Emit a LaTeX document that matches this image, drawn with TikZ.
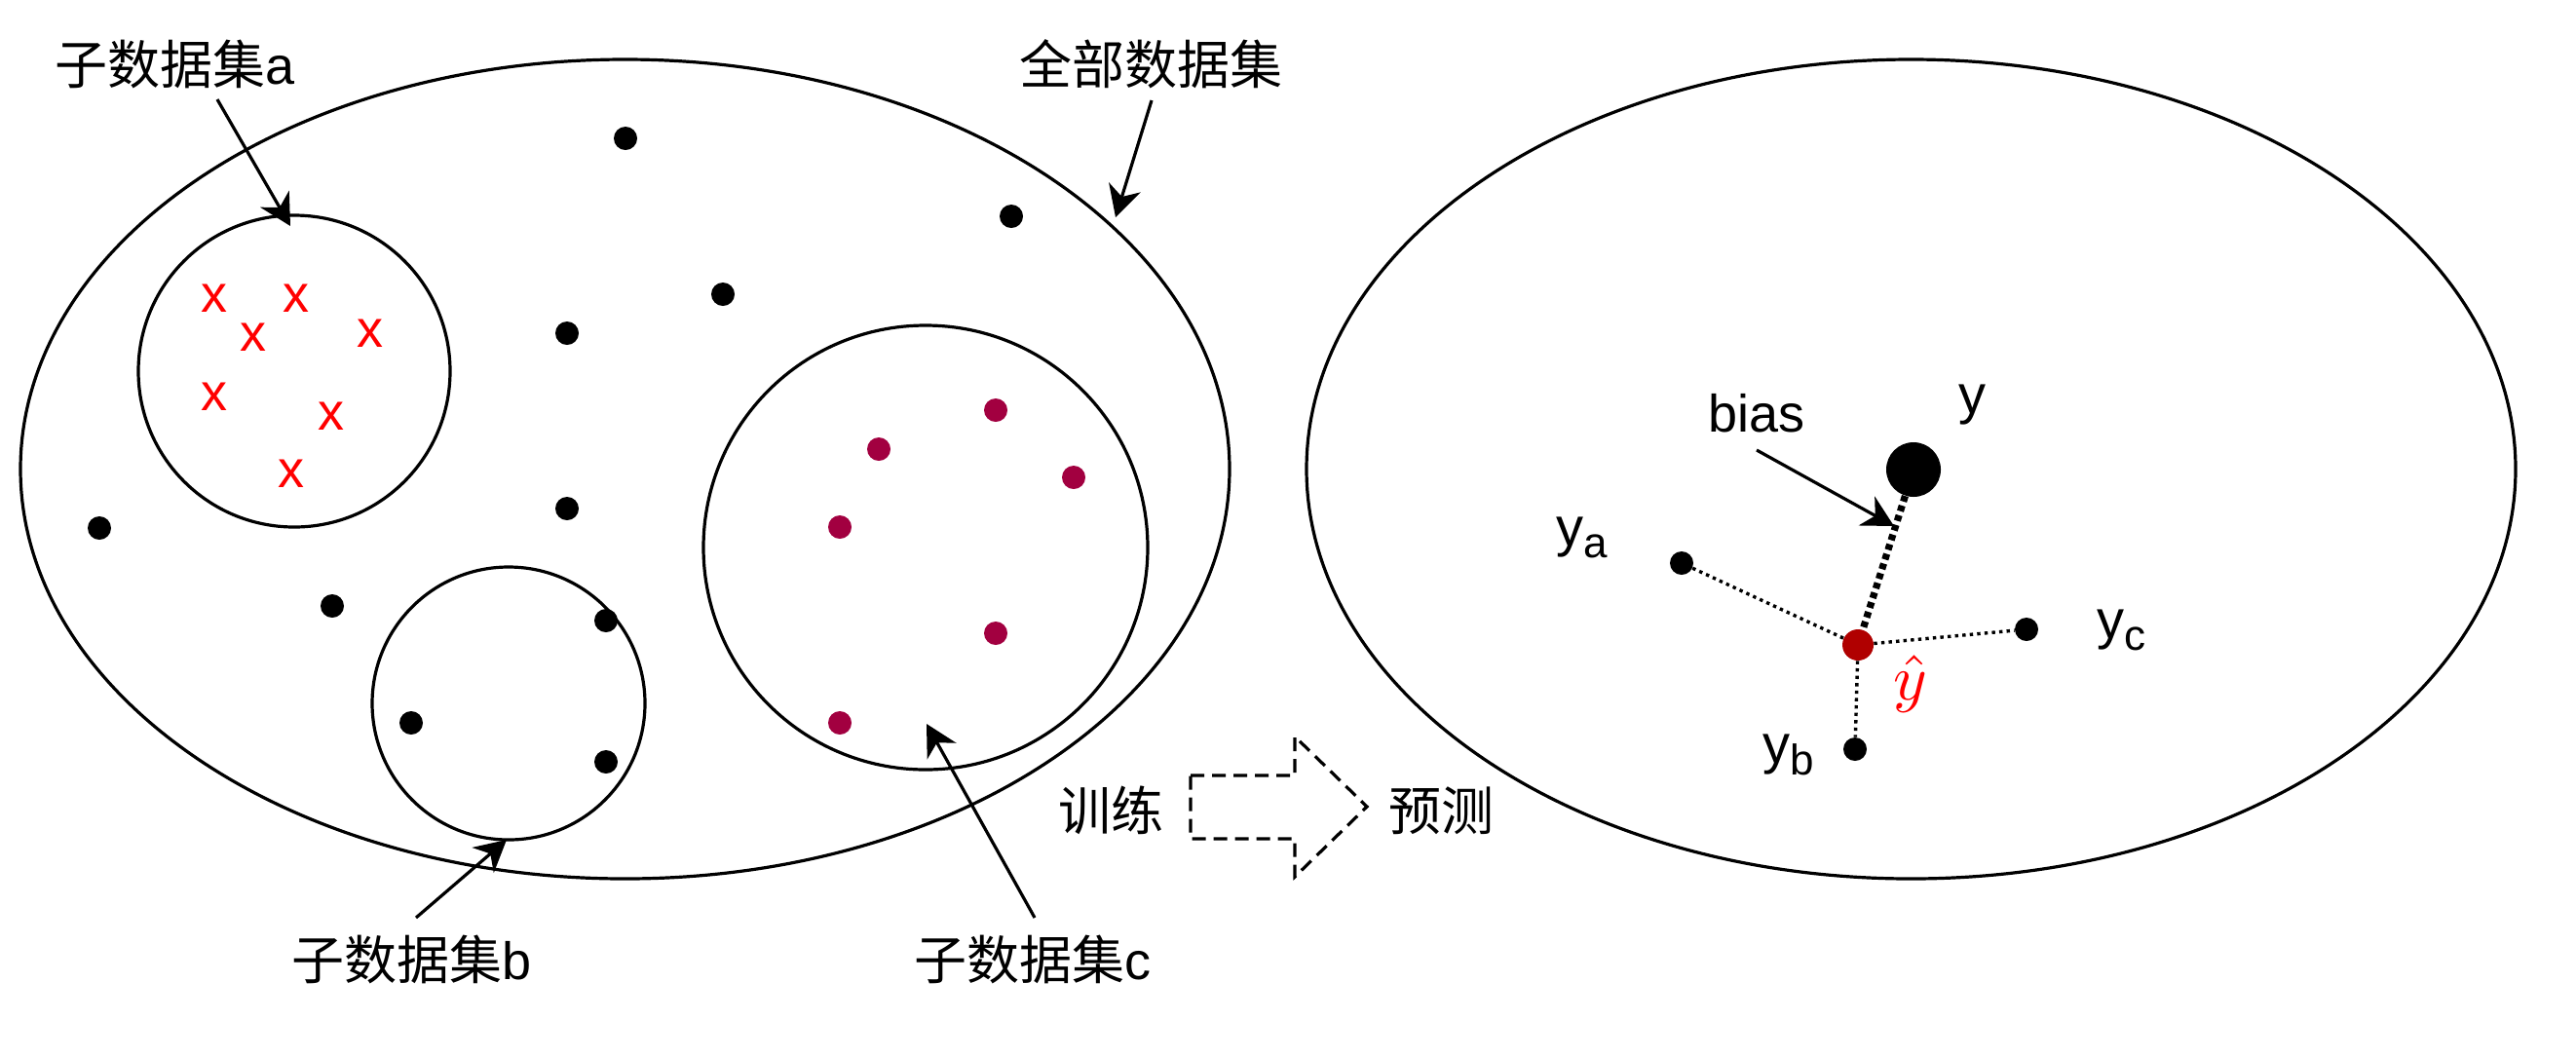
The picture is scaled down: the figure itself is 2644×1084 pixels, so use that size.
\documentclass[tikz,border=0pt]{standalone}
\usepackage{fontspec}
\usepackage{graphicx}
\setmainfont{Liberation Sans}
\newfontfamily\cjk{Noto Sans CJK SC}
\usetikzlibrary{arrows.meta,shapes.geometric}
\definecolor{dotc}{RGB}{162,0,64}
\definecolor{hatc}{RGB}{176,0,0}
\begin{document}
\begin{tikzpicture}[x=0.5pt,y=-0.5pt,
  lbl/.style={inner sep=0pt,font=\fontsize{27}{32}\selectfont},
  ylbl/.style={inner sep=0pt,anchor=base west,font=\fontsize{28}{32}\selectfont},
  dotb/.style={circle,fill=black,inner sep=0pt,minimum size=12pt},
  dotp/.style={dotb,fill=dotc},
  xm/.style={inner sep=0pt,text=red,font=\fontsize{27}{32}\selectfont},
  ring/.style={draw,line width=1.6pt,circle,inner sep=0pt},
  bigell/.style={draw,line width=1.6pt,ellipse,inner sep=0pt,minimum width=620.5pt,minimum height=420.5pt},
  arr/.style={line width=1.6pt,-{Stealth[length=16pt,width=17pt,inset=5pt]}},
  thindot/.style={line width=1.7pt,dash pattern=on 1.7pt off 2.1pt},
  thickdot/.style={line width=3.6pt,dash pattern=on 3pt off 2.2pt},
  bigarrow/.style={line width=1.6pt,dash pattern=on 7pt off 4pt}]
\useasboundingbox (0,0) rectangle (2644,1084);

% big ellipses
\node[bigell] (all) at (641.5,481.5) {};
\node[bigell] (pred) at (1961.5,481.5) {};

% sub circles
\node[ring,minimum size=160pt] (ca) at (302,381) {};
\node[ring,minimum size=140pt] (cb) at (522,722) {};
\node[ring,minimum size=228pt] (cc) at (950,562) {};

% black dots
\node[dotb] (d1) at (642,142) {};
\node[dotb] (d2) at (1038,222) {};
\node[dotb] (d3) at (742,302) {};
\node[dotb] (d4) at (582,342) {};
\node[dotb] (d5) at (582,522) {};
\node[dotb] (d6) at (102,542) {};
\node[dotb] (d7) at (341,622) {};
\node[dotb] (d8) at (622,637) {};
\node[dotb] (d9) at (422,742) {};
\node[dotb] (d10) at (622,782) {};

% red crosses
\node[xm] (x1) at (220,306) {x};
\node[xm] (x2) at (304,306) {x};
\node[xm] (x3) at (260,346) {x};
\node[xm] (x4) at (380,342) {x};
\node[xm] (x5) at (220,407) {x};
\node[xm] (x6) at (340,427) {x};
\node[xm] (x7) at (299,486) {x};

% purple dots
\node[dotp] (p1) at (1022,421) {};
\node[dotp] (p2) at (902,461) {};
\node[dotp] (p3) at (1102,490) {};
\node[dotp] (p4) at (862,541) {};
\node[dotp] (p5) at (1022,650) {};
\node[dotp] (p6) at (862,742) {};

% labels
\node[lbl] (la) at (180,66) {{\cjk 子数据集}a};
\node[lbl] (lall) at (1181,66) {{\cjk 全部数据集}};
\node[lbl] (lb) at (423,985) {{\cjk 子数据集}b};
\node[lbl] (lc) at (1060,985) {{\cjk 子数据集}c};
\node[lbl] (ltrain) at (1140,832) {{\cjk 训练}};
\node[lbl] (lpred) at (1479,832) {{\cjk 预测}};

% arrows from labels
\coordinate (a1) at (223,102); \coordinate (a2) at (298,232);
\draw[arr] (a1) -- (a2);
\coordinate (e1) at (1182,103); \coordinate (e2) at (1145,223);
\draw[arr] (e1) -- (e2);
\coordinate (b1) at (427,942); \coordinate (b2) at (520,862);
\draw[arr] (b1) -- (b2);
\coordinate (c1) at (1062,942); \coordinate (c2) at (951,743);
\draw[arr] (c1) -- (c2);

% dashed block arrow
\draw[bigarrow] (1222,796) -- (1329,796) -- (1329,756) -- (1403,828) -- (1329,900) -- (1329,861) -- (1222,861) -- cycle;

% right side
\node[dotb,minimum size=28pt] (ytrue) at (1964,482) {};
\node[circle,fill=hatc,inner sep=0pt,minimum size=16pt] (yhat) at (1907,662) {};
\node[dotb] (ya) at (1726,578) {};
\node[dotb] (yc) at (2080,646) {};
\node[dotb] (yb) at (1904,769) {};

\draw[thickdot] (ytrue) -- (yhat);
\draw[thindot] (ya) -- (yhat);
\draw[thindot] (yhat) -- (yc);
\draw[thindot] (yhat) -- (yb);

\node[ylbl] (ly) at (2010,424) {y};
\node[ylbl] (lya) at (1597,560) {y\raisebox{-6pt}{\fontsize{22}{22}\selectfont a}};
\node[ylbl] (lyc) at (2152,655) {y\raisebox{-6pt}{\fontsize{22}{22}\selectfont c}};
\node[ylbl] (lyb) at (1809,783) {y\raisebox{-6pt}{\fontsize{22}{22}\selectfont b}};
\node[inner sep=0pt,text=red] (lhat) at (1961,702) {\scalebox{3.3}{$\hat{y}$}};
\node[lbl,anchor=base west] (lbias) at (1753,443) {bias};

\coordinate (bs) at (1803,462); \coordinate (bt) at (1944,540);
\draw[arr] (bs) -- (bt);
\end{tikzpicture}
\end{document}
